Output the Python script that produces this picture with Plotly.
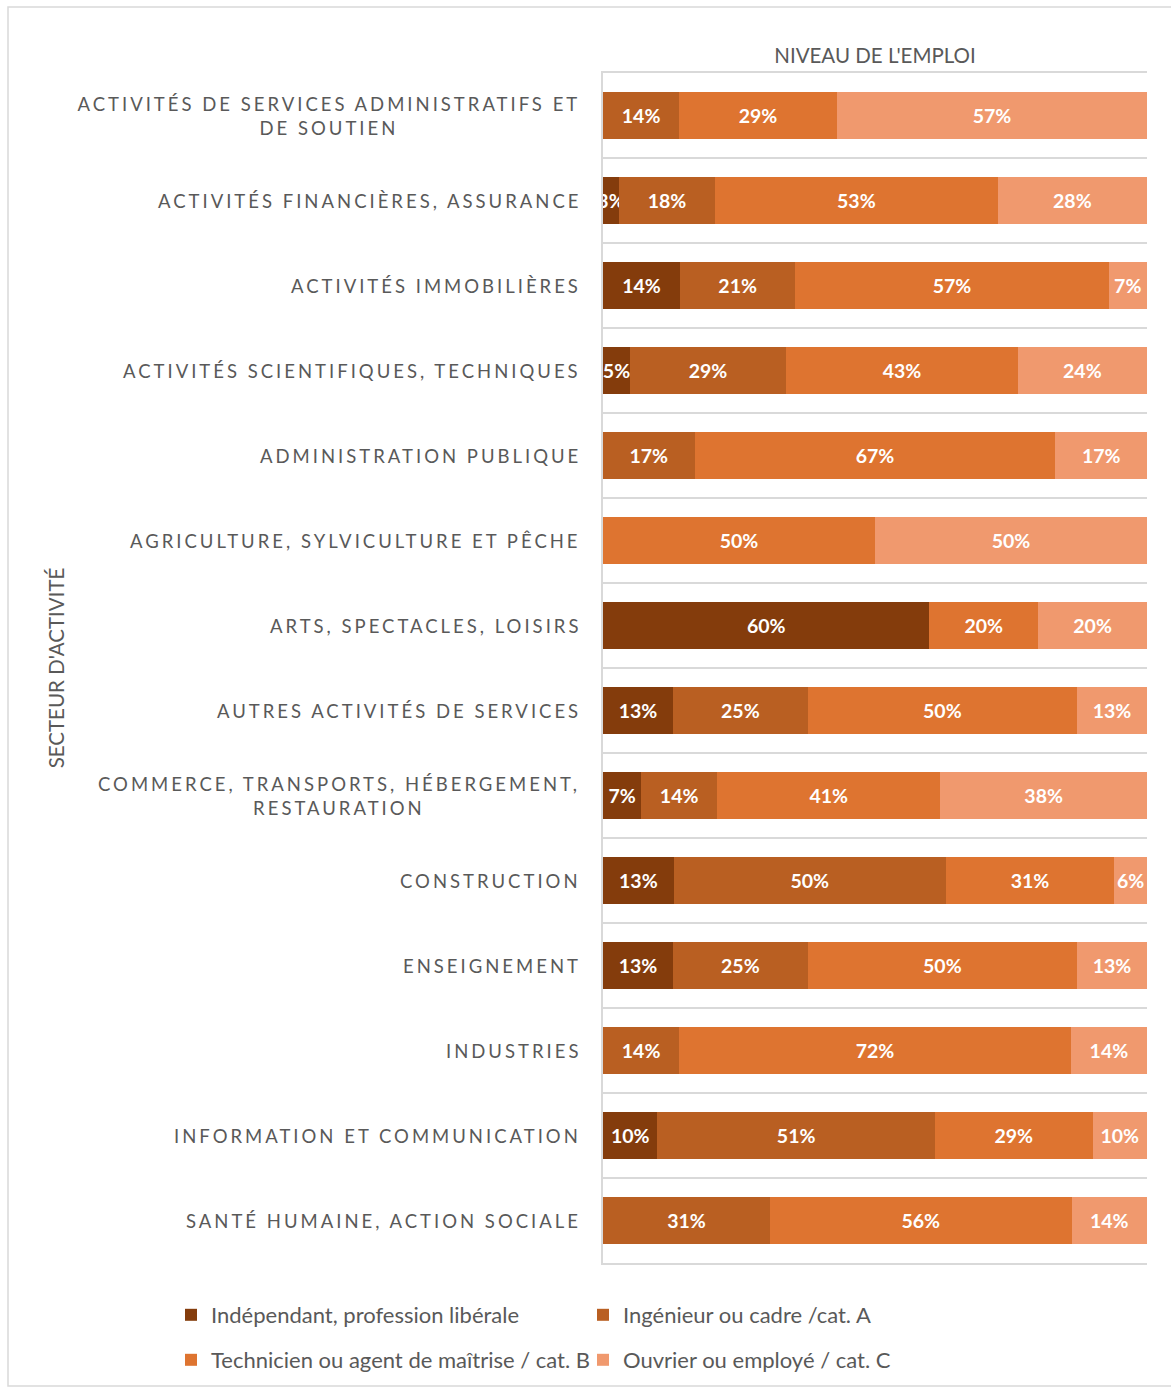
import plotly.graph_objects as go

categories = [
    "ACTIVITÉS DE SERVICES ADMINISTRATIFS ET<br>DE SOUTIEN",
    "ACTIVITÉS FINANCIÈRES, ASSURANCE",
    "ACTIVITÉS IMMOBILIÈRES",
    "ACTIVITÉS SCIENTIFIQUES, TECHNIQUES",
    "ADMINISTRATION PUBLIQUE",
    "AGRICULTURE, SYLVICULTURE ET PÊCHE",
    "ARTS, SPECTACLES, LOISIRS",
    "AUTRES ACTIVITÉS DE SERVICES",
    "COMMERCE, TRANSPORTS, HÉBERGEMENT,<br>RESTAURATION",
    "CONSTRUCTION",
    "ENSEIGNEMENT",
    "INDUSTRIES",
    "INFORMATION ET COMMUNICATION",
    "SANTÉ HUMAINE, ACTION SOCIALE",
]

series_names = [
    "Indépendant, profession libérale",
    "Ingénieur ou cadre /cat. A",
    "Technicien ou agent de maîtrise / cat. B",
    "Ouvrier ou employé / cat. C",
]
independant = [None, 3, 14, 5, None, None, 60, 13, 7, 13, 13, None, 10, None]
ingenieur = [14, 18, 21, 29, 17, None, None, 25, 14, 50, 25, 14, 51, 31]
technicien = [29, 53, 57, 43, 67, 50, 20, 50, 41, 31, 50, 72, 29, 56]
ouvrier = [57, 28, 7, 24, 17, 50, 20, 13, 38, 6, 13, 14, 10, 14]

x_title = "NIVEAU DE L'EMPLOI"
y_title = "SECTEUR D'ACTIVITÉ"

colors = ["#843C0C", "#B95F22", "#DE7430", "#F0996E"]
FONT = "Lato"
GREY = "#595959"
LINE = "#D9D9D9"
LS = 3.0  # letter spacing for category labels
LABEL_SIZE = 18.5

W, H = 1171, 1387
ML, MR, MT, MB = 603, 24, 73, 124
PW, PH = W - ML - MR, H - MT - MB

fig = go.Figure()
all_series = [independant, ingenieur, technicien, ouvrier]
for i, (name, vals) in enumerate(zip(series_names, all_series)):
    fig.add_trace(go.Bar(
        y=categories, x=vals, name=name, orientation="h",
        marker=dict(color=colors[i], line=dict(width=0)),
        text=[f"{v}%" if v is not None else "" for v in vals],
        textposition="inside", insidetextanchor="middle", textangle=0,
        textfont=dict(family=FONT, size=19.5, color="white", weight="bold"),
        legend="legend" if i < 2 else "legend2",
        hoverinfo="skip",
    ))

annotations = []
for c in categories:
    lines = c.split("<br>")
    longest = max(len(l) for l in lines)
    if len(lines) > 1:
        annotations.append(dict(
            x=0, xref="paper", y=c, yref="y", text=c, showarrow=False,
            xanchor="right", yanchor="middle", align="center",
            xshift=-21 - longest * LS / 2,
            font=dict(family=FONT, size=LABEL_SIZE, color=GREY),
        ))
    else:
        annotations.append(dict(
            x=0, xref="paper", y=c, yref="y", text=c, showarrow=False,
            xanchor="right", yanchor="middle", align="right",
            xshift=-20,
            font=dict(family=FONT, size=LABEL_SIZE, color=GREY),
        ))

def px_x(p):
    return (p - ML) / PW

def px_y(p):
    return (H - MB - p) / PH

legend_common = dict(
    orientation="h", xanchor="left", yanchor="middle",
    entrywidth=367, entrywidthmode="pixels",
    font=dict(family=FONT, size=22, color=GREY),
    bgcolor="rgba(0,0,0,0)", traceorder="normal",
)

fig.update_layout(
    width=W, height=H,
    margin=dict(l=ML, r=MR, t=MT, b=MB, autoexpand=False),
    paper_bgcolor="white", plot_bgcolor="white",
    barmode="stack", barnorm="percent", bargap=0.447,
    uniformtext=dict(mode="show", minsize=19.5),
    font=dict(family=FONT, color=GREY),
    showlegend=True,
    legend=dict(x=px_x(171), y=px_y(1315), **legend_common),
    legend2=dict(x=px_x(171), y=px_y(1360), **legend_common),
    xaxis=dict(
        range=[0, 100], side="top", showticklabels=False, ticks="",
        showgrid=False, zeroline=False,
        showline=True, mirror=True, linecolor=LINE, linewidth=1.5,
        title=dict(text=x_title, standoff=2,
                   font=dict(family=FONT, size=20.5, color=GREY)),
    ),
    yaxis=dict(
        type="category", categoryorder="array", categoryarray=categories,
        autorange="reversed", tickson="boundaries",
        showgrid=True, gridcolor=LINE, gridwidth=1.5,
        showticklabels=False, ticks="",
        showline=True, linecolor=LINE, linewidth=1.5, zeroline=False,
        title=dict(text=y_title, standoff=531,
                   font=dict(family=FONT, size=20.5, color=GREY)),
    ),
    annotations=annotations,
    shapes=[dict(
        type="rect", xref="paper", yref="paper",
        x0=px_x(8), x1=px_x(1185), y0=px_y(1386), y1=px_y(7),
        line=dict(color=LINE, width=1.5), fillcolor="rgba(0,0,0,0)",
        layer="below",
    )],
)

post = ("document.body.style.margin='0';"
        "var s=document.createElement('style');"
        "s.textContent='.annotation-text{letter-spacing:%spx;}';"
        "document.head.appendChild(s);" % LS)
fig.write_html("out.html", post_script=post,
               config={"displayModeBar": False, "responsive": False})
